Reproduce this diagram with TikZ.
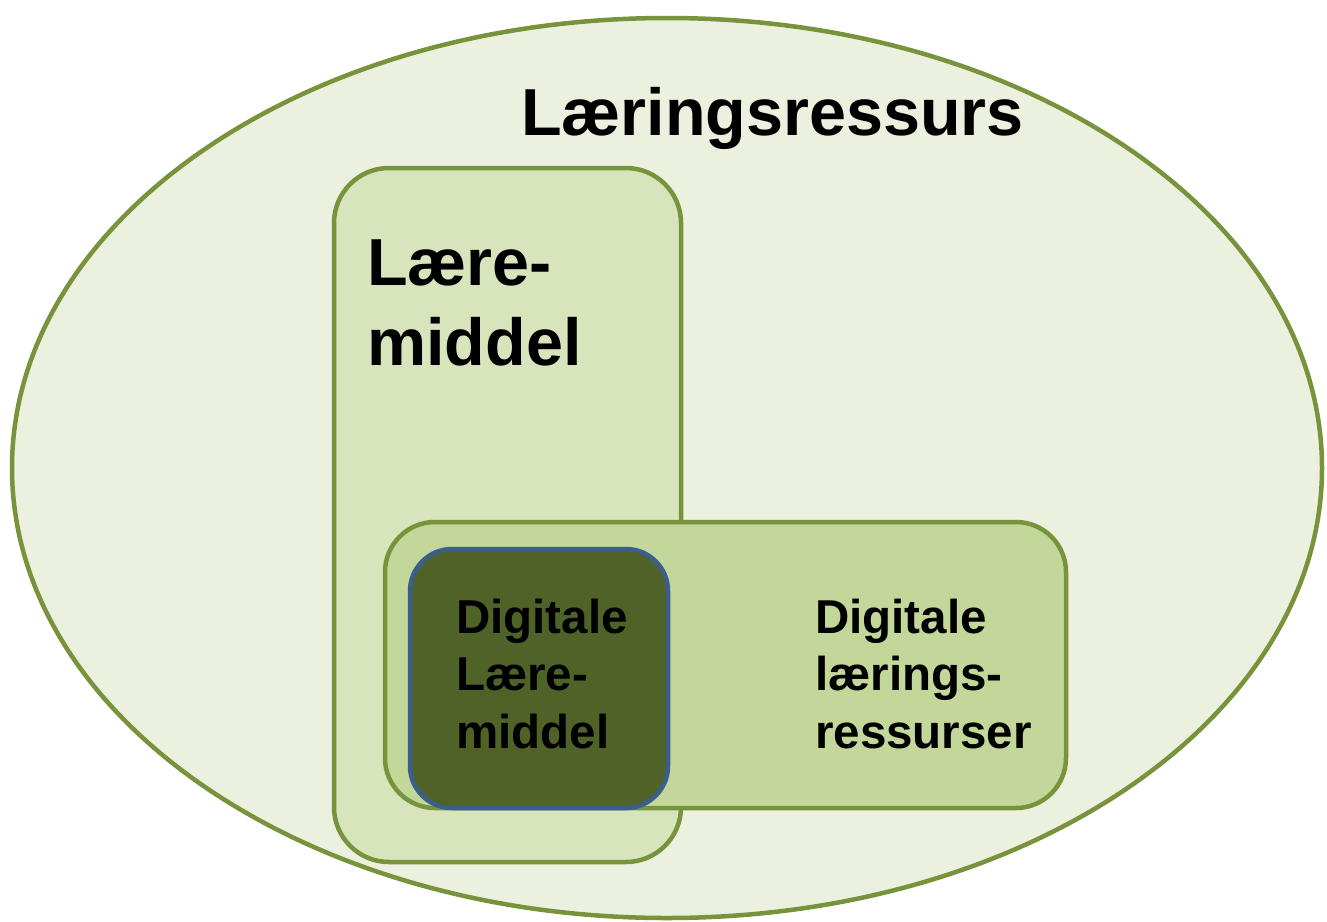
\documentclass[tikz,border=0pt]{standalone}
\usepackage{fontspec}
\setmainfont{Liberation Sans}
\usetikzlibrary{shapes.geometric}
\definecolor{edgegreen}{HTML}{77933C}
\definecolor{ellfill}{HTML}{EBF1DE}
\definecolor{tallfill}{HTML}{D8E4BC}
\definecolor{widefill}{HTML}{C4D79B}
\definecolor{darkfill}{HTML}{4F6228}
\definecolor{darkedge}{HTML}{3B5E8C}
\tikzset{
  shapebox/.style={rectangle, draw=edgegreen, line width=4.5pt, inner sep=0pt, outer sep=0pt},
  bigtext/.style={anchor=base west, inner sep=0pt, align=left, font=\fontsize{66.5}{80}\selectfont\bfseries},
  smalltext/.style={anchor=base west, inner sep=0pt, align=left, font=\fontsize{47.5}{57.5}\selectfont\bfseries},
}
\begin{document}
\begin{tikzpicture}[x=1pt,y=-1pt]
\useasboundingbox[fill=white] (0,0) rectangle (1327,921);
\node[ellipse, draw=edgegreen, fill=ellfill, line width=4.5pt, inner sep=0pt, minimum width=1310pt, minimum height=900pt] (ell) at (667,468) {};
\node[shapebox, fill=tallfill, rounded corners=55pt, minimum width=347pt, minimum height=694pt] (tall) at (507.5,515) {};
\node[shapebox, fill=widefill, rounded corners=50pt, minimum width=681pt, minimum height=286pt] (wide) at (725.5,665) {};
\node[shapebox, draw=darkedge, fill=darkfill, rounded corners=42pt, minimum width=258pt, minimum height=259pt] (dark) at (539,678.5) {};
\node[bigtext] (tres) at (521,135) {Læringsressurs};
\node[bigtext] (tlm) at (367,365) {Lære-\\middel};
\node[smalltext] (tdlm) at (456,748) {Digitale\\Lære-\\middel};
\node[smalltext] (tdlr) at (815,748) {Digitale\\lærings-\\ressurser};
\end{tikzpicture}
\end{document}
